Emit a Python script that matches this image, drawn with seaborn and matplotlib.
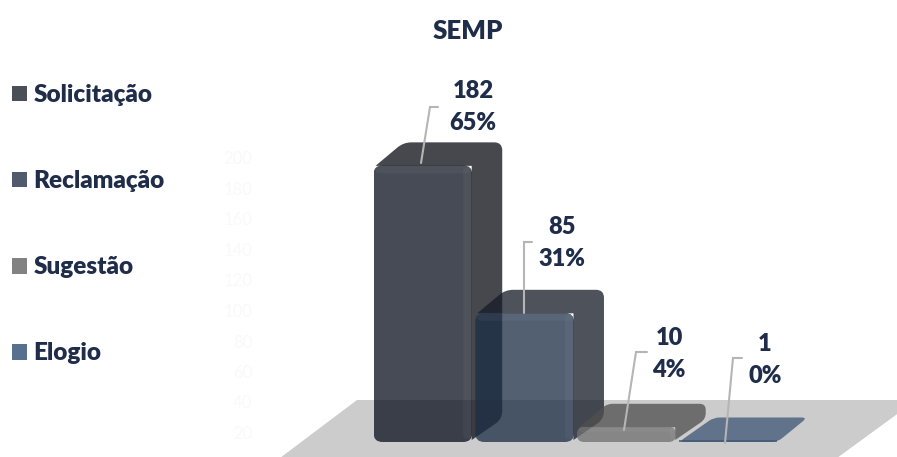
import numpy as np
import pandas as pd
import matplotlib
matplotlib.use("Agg")
import matplotlib.pyplot as plt
import seaborn as sns
from matplotlib.patches import PathPatch, Patch, Polygon
from matplotlib.path import Path
from matplotlib.transforms import Affine2D

# ---- data ----
categories = ["Solicitação", "Reclamação", "Sugestão", "Elogio"]
counts = [182, 85, 10, 1]
percents = [65, 31, 4, 0]
axis_ticks = [20, 40, 60, 80, 100, 120, 140, 160, 180, 200]
title = "SEMP"

# ---- style ----
W, H = 897, 457
TEXT = "#1f2d4a"
WEIGHT = "heavy"
front_cols = ["#0c1220", "#1d2e46", "#717171", "#405775"]
side_cols = ["#0c0f15", "#161c28", "#505050", "#405775"]
legend_cols = ["#4a4f58", "#505c6c", "#828282", "#56708f"]
ALPHA = 0.76
DX, DY = 30, 23
LEFT, RIGHT, BASE, TOP = 372, 779, 442, 138   # axes box in pixels

sns.set_theme(style="white")
plt.rcParams["font.family"] = ["Lato", "DejaVu Sans"]

fig = plt.figure(figsize=(W / 100, H / 100), dpi=100, facecolor="white")
px = Affine2D().scale(1, -1).translate(0, H)   # pixel coordinates, y downward


def box(l, r, t, b):
    return [l / W, 1 - b / H, (r - l) / W, (b - t) / H]


# faint value axis behind the chart
bg = fig.add_axes(box(252, 352, 158, 463), facecolor="none", zorder=0)
bg.set_ylim(0, 200)
bg.set_yticks(axis_ticks)
bg.tick_params(axis="y", length=0, labelsize=12, labelcolor="#f9f9f9", pad=0)
bg.set_xticks([])
for s in bg.spines.values():
    s.set_visible(False)

ax = fig.add_axes(box(LEFT, RIGHT, TOP, BASE), facecolor="none", zorder=1)
df = pd.DataFrame({"cat": categories, "n": counts})
sns.barplot(data=df, x="cat", y="n", hue="cat", palette=front_cols, width=0.97,
            legend=False, ax=ax, saturation=1)
ax.set_xlim(-0.5, 3.5)
ax.set_ylim(0, 200)
ax.set_axis_off()
bars = list(ax.patches)


def rounded(pts, radii):
    """Closed path through pts with a rounded corner of the given radius at each point."""
    pts = [np.array(p, float) for p in pts]
    n = len(pts)
    if np.isscalar(radii):
        radii = [radii] * n
    v, c = [], []
    for i in range(n):
        p, a, b = pts[i], pts[i - 1], pts[(i + 1) % n]
        r = max(radii[i], 0.01)
        ra = min(r, np.linalg.norm(a - p) / 2)
        rb = min(r, np.linalg.norm(b - p) / 2)
        p1 = p + (a - p) / np.linalg.norm(a - p) * ra
        p2 = p + (b - p) / np.linalg.norm(b - p) * rb
        v += [p1, p, p2]
        c += [Path.MOVETO if i == 0 else Path.LINETO, Path.CURVE3, Path.CURVE3]
    v.append(v[0])
    c.append(Path.CLOSEPOLY)
    return Path(np.array(v), c)


def face(pts, col, z, r=9, alpha=ALPHA):
    ax.add_patch(PathPatch(rounded(pts, r), fc=col, ec="none", alpha=alpha,
                           transform=px, clip_on=False, zorder=z))


# floor
ax.add_patch(Polygon([(357, 400), (900, 400), (900, 412), (837, 458), (280, 458)],
                     closed=True, fc="#cccccc", ec="none", transform=px,
                     clip_on=False, zorder=0.5))

# turn every seaborn bar into a rounded front with top and side in perspective
to_px = ax.transData + px.inverted()
for i, bar in enumerate(bars):
    (l, b), (r, t) = to_px.transform([(bar.get_x(), 0),
                                      (bar.get_x() + bar.get_width(), bar.get_height())])
    z = 2 + 2 * i
    tall = counts[i] > 5
    # top and side faces, one L-shaped silhouette behind the front face
    if tall:
        shape = [(l + 2, t + 0.5), (l + DX, t - DY), (r + DX, t - DY), (r + DX, b - DY),
                 (r - 0.5, b - 2), (r - 0.5, t + 0.5)]
        rr = 8 if counts[i] > 20 else 6
        face(shape, side_cols[i], z, [0, rr, rr, rr, 0, 0])
    else:
        face([(l, b), (l + DX + 5, t - DY), (r + DX, t - DY), (r, b)], side_cols[i], z, 6)
    # front face: the seaborn bar itself, clipped to a rounded outline
    bar.set_alpha(ALPHA)
    bar.set_zorder(z + 1)
    bar.set_edgecolor("none")
    if tall:
        clip = rounded([(l, t), (r, t), (r, b), (l, b)], 9 if counts[i] > 20 else 7)
        bar.set_clip_path(clip, px)
        e = 8 if counts[i] > 20 else 5
        # bevel highlight along the top and right of the front face
        face([(l + 2, t), (r - 2, t), (r - 2, t + e), (l + 2, t + e)], "white",
             z + 1.2, 4, 0.04)
        face([(r - e - 1, t + 2), (r - 1, t + 2), (r - 1, b - 3), (r - e - 1, b - 3)],
             "white", z + 1.2, 4, 0.04)
    else:
        bar.set_clip_on(False)

# data labels with leader lines
label_xy = [(473, 91), (562, 227), (669, 338), (765, 344)]
leader_xy = [[(421, 163), (430, 107), (438, 107)],
             [(524, 313), (524, 242), (532, 242)],
             [(624, 430), (636, 352), (647, 352)],
             [(725, 443), (733, 358), (742, 358)]]
for (x, y), line, n, p in zip(label_xy, leader_xy, counts, percents):
    xs, ys = zip(*line)
    ax.plot(xs, ys, color="#b5b5b5", lw=1.5, transform=px, clip_on=False, zorder=20,
            solid_joinstyle="miter")
    ax.text(x, y, str(n), transform=px, ha="center", va="center", fontsize=17,
            color=TEXT, zorder=21, fontweight=WEIGHT)
    ax.text(x, y + 32, f"{p}%", transform=px, ha="center", va="center", fontsize=17,
            color=TEXT, zorder=21, fontweight=WEIGHT)

fig.text(468 / W, 1 - 31 / H, title, ha="center", va="center", fontsize=18.5,
         color=TEXT, fontweight=WEIGHT)

handles = [Patch(fc=c, ec="none") for c in legend_cols]
fig.legend(handles, categories, loc="upper left", bbox_to_anchor=(12 / W, 1 - 84 / H),
           frameon=False, labelcolor=TEXT, handlelength=0.62,
           handleheight=0.62, handletextpad=0.27, labelspacing=2.64,
           borderpad=0, borderaxespad=0,
           prop={"size": 17.5, "weight": WEIGHT, "family": ["Lato", "DejaVu Sans"]})

fig.savefig("out.png", dpi=100)
